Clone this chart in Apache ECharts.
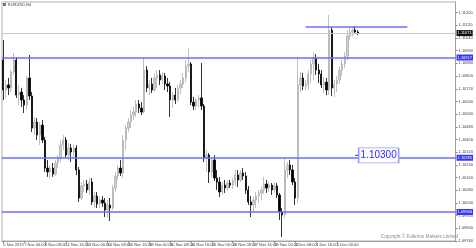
<!DOCTYPE html>
<html><head><meta charset="utf-8">
<script src="https://cdn.jsdelivr.net/npm/echarts@6/dist/echarts.min.js"></script>
<style>html,body{margin:0;padding:0;background:#fff}#c{width:476px;height:248px}</style>
</head><body><div id="c"></div>
<script>
const xTickLabels = ["5 Nov 2019","7 Nov 00:00","8 Nov 08:00","11 Nov 16:00","13 Nov 00:00","14 Nov 08:00","15 Nov 16:00","19 Nov 00:00","20 Nov 08:00","21 Nov 16:00","25 Nov 00:00","26 Nov 08:00","27 Nov 16:00","29 Nov 00:00","2 Dec 08:00","3 Dec 16:00","5 Dec 00:00","6 Dec 08:00"];
const barsPerLabel = 8;
const futureSlots = 37;

const openP = [1.10901,1.10712,1.10744,1.10725,1.10825,1.10901,1.10680,1.10699,1.10649,1.10617,1.10788,1.10674,1.10472,1.10510,1.10428,1.10491,1.10397,1.10220,1.10195,1.10220,1.10182,1.10252,1.10283,1.10365,1.10397,1.10302,1.10346,1.10321,1.10346,1.10208,1.10031,1.10107,1.10119,1.10082,1.10132,1.10006,1.10044,1.09993,1.10018,1.10000,1.09956,1.09987,1.09968,1.10094,1.10170,1.10220,1.10189,1.10397,1.10472,1.10510,1.10554,1.10573,1.10624,1.10598,1.10573,1.10838,1.10725,1.10750,1.10712,1.10788,1.10807,1.10775,1.10800,1.10750,1.10737,1.10649,1.10680,1.10649,1.10725,1.10750,1.10788,1.10863,1.10876,1.10636,1.10611,1.10649,1.10662,1.10611,1.10283,1.10302,1.10195,1.10271,1.10157,1.10132,1.10069,1.10113,1.10094,1.10126,1.10113,1.10138,1.10176,1.10145,1.10189,1.10170,1.10082,1.10006,1.09987,1.10018,1.10044,1.10063,1.10082,1.10119,1.10094,1.10113,1.10082,1.10107,1.10050,1.09943,1.09924,1.10208,1.10239,1.10208,1.10132,1.10031,1.10744,1.10788,1.10737,1.10750,1.10813,1.10876,1.10914,1.10838,1.10813,1.10744,1.10762,1.10712,1.11090,1.10725,1.10750,1.10775,1.10838,1.10876,1.10926,1.11052,1.11078,1.11090,1.11078];
const highP = [1.11027,1.10775,1.10788,1.10838,1.10945,1.10920,1.10744,1.10725,1.10680,1.10800,1.10933,1.10699,1.10542,1.10535,1.10510,1.10523,1.10416,1.10271,1.10239,1.10252,1.10271,1.10302,1.10397,1.10428,1.10416,1.10378,1.10372,1.10365,1.10365,1.10227,1.10132,1.10145,1.10145,1.10157,1.10157,1.10069,1.10069,1.10037,1.10044,1.10031,1.10018,1.10031,1.10113,1.10195,1.10239,1.10271,1.10428,1.10491,1.10535,1.10586,1.10605,1.10649,1.10649,1.10636,1.10914,1.10863,1.10775,1.10788,1.10819,1.10838,1.10838,1.10825,1.10819,1.10788,1.10762,1.10699,1.10725,1.10744,1.10775,1.10819,1.10901,1.10977,1.10889,1.10668,1.10662,1.10680,1.10882,1.10624,1.10334,1.10315,1.10290,1.10302,1.10208,1.10164,1.10132,1.10145,1.10145,1.10145,1.10157,1.10208,1.10208,1.10208,1.10220,1.10195,1.10107,1.10044,1.10037,1.10069,1.10082,1.10107,1.10164,1.10145,1.10132,1.10126,1.10132,1.10126,1.10063,1.09968,1.10290,1.10258,1.10271,1.10239,1.10157,1.10920,1.10825,1.10819,1.10775,1.10838,1.10901,1.10951,1.10939,1.10876,1.10838,1.10794,1.10788,1.11185,1.11109,1.10775,1.10800,1.10863,1.10901,1.10951,1.11090,1.11103,1.11109,1.11115,1.11090];
const lowP = [1.10649,1.10662,1.10680,1.10699,1.10807,1.10662,1.10617,1.10605,1.10567,1.10586,1.10649,1.10447,1.10428,1.10397,1.10365,1.10378,1.10195,1.10164,1.10157,1.10164,1.10170,1.10220,1.10258,1.10334,1.10283,1.10271,1.10258,1.10283,1.10176,1.10006,1.10018,1.10069,1.10063,1.10050,1.09987,1.09968,1.09968,1.09968,1.09974,1.09911,1.09905,1.09886,1.09956,1.10069,1.10145,1.10170,1.10157,1.10334,1.10447,1.10472,1.10523,1.10542,1.10567,1.10554,1.10561,1.10699,1.10680,1.10693,1.10699,1.10725,1.10744,1.10750,1.10712,1.10699,1.10542,1.10598,1.10624,1.10636,1.10687,1.10725,1.10762,1.10825,1.10617,1.10586,1.10586,1.10605,1.10586,1.10258,1.10195,1.10126,1.10164,1.10138,1.10082,1.10037,1.10050,1.10063,1.10075,1.10094,1.10088,1.10107,1.10100,1.10132,1.10145,1.10056,1.09987,1.09911,1.09943,1.09968,1.10000,1.10018,1.10056,1.10063,1.10069,1.10050,1.10063,1.10031,1.09892,1.09785,1.09905,1.10157,1.10176,1.10113,1.09987,1.10000,1.10699,1.10712,1.10712,1.10712,1.10756,1.10775,1.10807,1.10756,1.10725,1.10693,1.10680,1.10680,1.10674,1.10668,1.10699,1.10750,1.10800,1.10851,1.10901,1.11027,1.11052,1.11065,1.11059];
const closeP = [1.10712,1.10744,1.10725,1.10825,1.10901,1.10680,1.10699,1.10649,1.10617,1.10788,1.10674,1.10472,1.10510,1.10428,1.10491,1.10397,1.10220,1.10195,1.10220,1.10182,1.10252,1.10283,1.10365,1.10397,1.10302,1.10346,1.10321,1.10346,1.10208,1.10031,1.10107,1.10119,1.10082,1.10132,1.10006,1.10044,1.09993,1.10018,1.10000,1.09956,1.09987,1.09968,1.10094,1.10170,1.10220,1.10189,1.10397,1.10472,1.10510,1.10554,1.10573,1.10624,1.10598,1.10573,1.10838,1.10725,1.10750,1.10712,1.10788,1.10807,1.10775,1.10800,1.10750,1.10737,1.10649,1.10680,1.10649,1.10725,1.10750,1.10788,1.10863,1.10876,1.10636,1.10611,1.10649,1.10662,1.10611,1.10283,1.10302,1.10195,1.10271,1.10157,1.10132,1.10069,1.10113,1.10094,1.10126,1.10113,1.10138,1.10176,1.10145,1.10189,1.10170,1.10082,1.10006,1.09987,1.10018,1.10044,1.10063,1.10082,1.10119,1.10094,1.10113,1.10082,1.10107,1.10050,1.09943,1.09924,1.10208,1.10239,1.10208,1.10132,1.10031,1.10744,1.10788,1.10737,1.10750,1.10813,1.10876,1.10914,1.10838,1.10813,1.10744,1.10762,1.10712,1.11090,1.10725,1.10750,1.10775,1.10838,1.10876,1.10926,1.11052,1.11078,1.11090,1.11078,1.11071];

const levelLines = [1.10917, 1.10285, 1.09943];
const shortLevel = 1.11109;
const shortLevelFrom = 116, shortLevelTo = 155;
const bidPrice = 1.11071;
const noteText = "1.10300";
const notePrice = 1.10300;
const noteSlot = 144;
const yMin = 1.09760, yMax = 1.11267, yStep = 0.0008;

const nBars = openP.length;
const categories = [];
for (let i = 0; i < nBars + futureSlots; i++) categories.push(String(i));
const candles = openP.map((o, i) => [o, closeP[i], lowP[i], highP[i]]);

const FONT = 'Liberation Sans';
const isLabelIdx = (i) => i % barsPerLabel === 0 && i < nBars;

const chart = echarts.init(document.getElementById('c'), null, {renderer: 'canvas'});
chart.setOption({
  animation: false,
  backgroundColor: '#ffffff',
  grid: {left: 2, right: 15, top: 2, bottom: 7, show: true, borderColor: '#b0b0b0', borderWidth: 1, backgroundColor: '#fff'},
  xAxis: {
    type: 'category', data: categories, boundaryGap: true,
    axisLine: {lineStyle: {color: '#a0a0a0', width: 1}},
    axisTick: {show: true, interval: (i) => isLabelIdx(i), length: 2, alignWithLabel: true, lineStyle: {color: '#888'}},
    axisLabel: {
      interval: (i) => isLabelIdx(i), align: 'left', margin: 2,
      fontSize: 4, color: '#444', fontFamily: FONT,
      formatter: (v, i) => isLabelIdx(i) ? xTickLabels[i / barsPerLabel] : ''
    },
    splitLine: {show: false}
  },
  yAxis: {
    type: 'value', position: 'right', min: yMin, max: yMax, interval: yStep, scale: true,
    axisLine: {show: true, lineStyle: {color: '#a0a0a0'}},
    axisTick: {show: true, length: 2, lineStyle: {color: '#888'}},
    axisLabel: {fontSize: 4, color: '#444', fontFamily: FONT, margin: 3, showMaxLabel: false,
      formatter: (v) => v.toFixed(5)},
    splitLine: {show: false}
  },
  graphic: [
    {type: 'rect', left: 3, top: 3, shape: {width: 3, height: 3}, style: {fill: '#777'}},
    {type: 'text', left: 8, top: 2.5, style: {text: 'EURUSD,H4', fontSize: 4, fill: '#444', fontFamily: FONT}},
    {type: 'text', right: 18, top: 234, style: {text: 'Copyright \u00a9 Fullerton Markets Limited', fontSize: 4.6, fill: '#8a8a8a', fontFamily: FONT}}
  ],
  series: [{
    type: 'candlestick',
    data: candles,
    barWidth: 1.8,
    itemStyle: {color: '#cfcfcf', color0: '#000000', borderColor: '#b0b0b0', borderColor0: '#000000', borderWidth: 0.8},
    markLine: {
      silent: true, symbol: ['none', 'none'], animation: false, precision: 5,
      data: [
        {yAxis: bidPrice, lineStyle: {color: '#c8c8c8', width: 1, type: 'solid'},
          label: {show: true, position: 'end', distance: 1, formatter: bidPrice.toFixed(5), fontSize: 4, color: '#fff', backgroundColor: '#111', padding: [1, 1], fontFamily: FONT}},
        ...levelLines.map(v => ({yAxis: v, lineStyle: {color: '#6b6bff', width: 1.5, type: 'solid'},
          label: {show: true, position: 'end', distance: 1, formatter: v.toFixed(5), fontSize: 4, color: '#fff', backgroundColor: '#3535ff', padding: [1, 1], fontFamily: FONT}})),
        [{coord: [shortLevelFrom, shortLevel], lineStyle: {color: '#6b6bff', width: 1.5, type: 'solid'}, label: {show: false}},
         {coord: [shortLevelTo, shortLevel]}]
      ]
    },
    markPoint: {
      silent: true, animation: false, z: 10,
      data: [
        {coord: [noteSlot, notePrice], symbol: 'rect', symbolSize: [40, 15],
          itemStyle: {color: '#ffffff', borderColor: '#9a9aff', borderWidth: 1},
          label: {show: true, position: 'inside', formatter: noteText, fontSize: 10, color: '#2b2bff', fontFamily: FONT}},
        {coord: [noteSlot, notePrice], symbol: 'rect', symbolSize: [3, 1], symbolOffset: [-22, 0],
          itemStyle: {color: '#2b2bff'}, label: {show: false}}
      ]
    }
  }]
});
</script></body></html>
